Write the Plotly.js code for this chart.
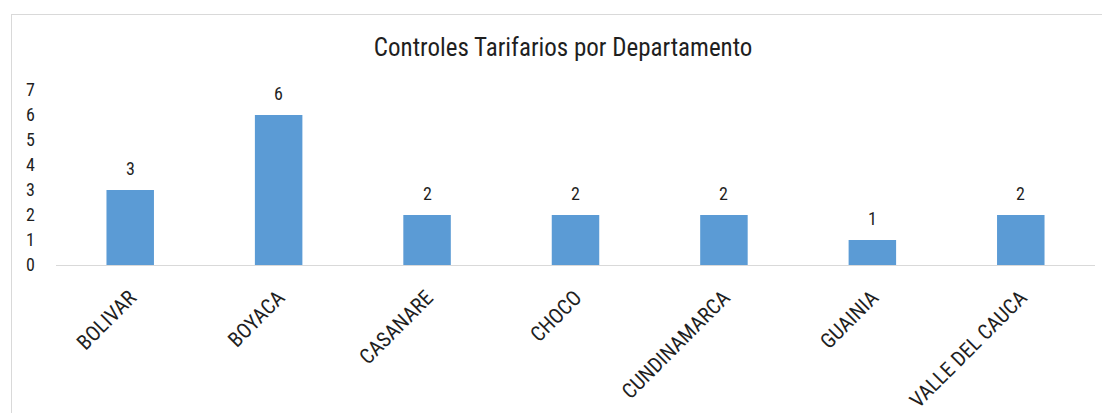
<!DOCTYPE html>
<html>
<head>
<meta charset="utf-8">
<script src="https://cdn.plot.ly/plotly-3.0.1.min.js"></script>
<style>
html,body{margin:0;padding:0;background:#fff;}
#wrap{position:relative;width:1102px;height:413px;}
#chart{position:absolute;left:0;top:0;width:1102px;height:413px;}
#frame{position:absolute;left:11px;top:14px;width:1100px;height:410px;border-top:1px solid #d9d9d9;border-left:1px solid #d9d9d9;pointer-events:none;}
</style>
</head>
<body>
<div id="wrap"><div id="chart"></div><div id="frame"></div></div>
<script>
var departamentos = ["BOLIVAR","BOYACA","CASANARE","CHOCO","CUNDINAMARCA","GUAINIA","VALLE DEL CAUCA"];
var controles = [3, 6, 2, 2, 2, 1, 2];
var yTicks = [0,1,2,3,4,5,6,7];

var FONT = "'Liberation Sans Narrow', 'Roboto Condensed', 'Arial Narrow', Roboto, sans-serif";

var trace = {
  type: "bar",
  x: departamentos,
  y: controles,
  marker: {color: "#5B9BD5"},
  width: 0.32,
  hoverinfo: "x+y"
};

var labels = departamentos.map(function(d, i){
  return {x: d, y: controles[i], text: String(controles[i]), showarrow: false,
          xref: "x", yref: "y", yanchor: "bottom", yshift: 9,
          font: {family: FONT, size: 18, color: "#1f1f1f"}};
});

var layout = {
  width: 1102, height: 413,
  margin: {l: 56, r: 7, t: 90, b: 148},
  paper_bgcolor: "#fff", plot_bgcolor: "#fff",
  showlegend: false,
  title: {text: "Controles Tarifarios por Departamento", x: 0.511, xanchor: "center", y: 0.885, yanchor: "middle",
          font: {family: FONT, size: 25, color: "#1f1f1f"}},
  xaxis: {
    type: "category",
    tickangle: -45,
    showgrid: false,
    showline: true, linecolor: "#d9d9d9", linewidth: 1,
    ticks: "",
    tickfont: {family: FONT, size: 21, color: "#1f1f1f"},
    ticklabelstandoff: 11
  },
  yaxis: {
    range: [0, 7],
    tickvals: yTicks,
    ticktext: yTicks.map(String),
    showgrid: false, zeroline: false, showline: false, ticks: "",
    tickfont: {family: FONT, size: 18, color: "#1f1f1f"},
    ticklabelstandoff: 20
  },
  annotations: labels,
  bargap: 0.68
};

Plotly.newPlot("chart", [trace], layout, {displayModeBar: false, staticPlot: true});
</script>
</body>
</html>
